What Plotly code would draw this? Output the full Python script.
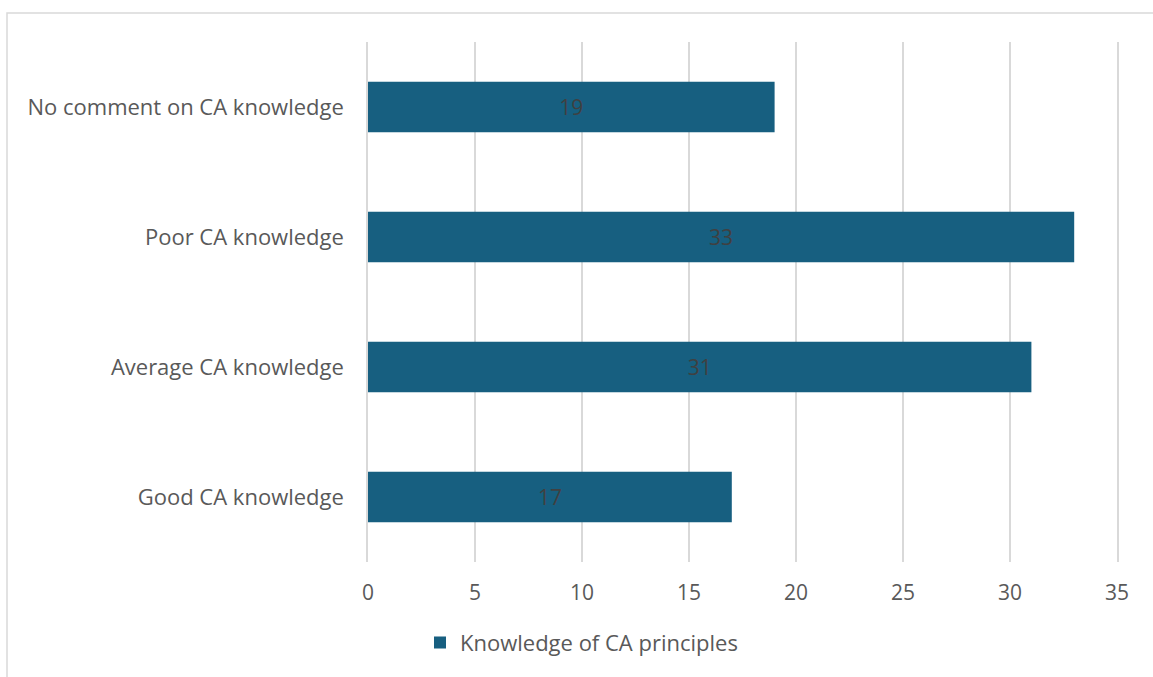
import plotly.graph_objects as go

categories = ["Good CA knowledge", "Average CA knowledge", "Poor CA knowledge", "No comment on CA knowledge"]
values = [17, 31, 33, 19]
series_name = "Knowledge of CA principles"
tick_values = [0, 5, 10, 15, 20, 25, 30, 35]

W, H = 1153, 677
L, R, T, B = 368, 36, 42, 115
pw, ph = W - L - R, H - T - B
FONT = "Open Sans"
FS = 21
FS_CAT = 22
GRID = "#d9d9d9"

fig = go.Figure()
fig.add_trace(go.Bar(
    y=categories, x=values, orientation="h", name=series_name,
    marker=dict(color="#175F80", line=dict(width=0)),
    width=0.39,
    text=[str(v) for v in values], textposition="inside", insidetextanchor="middle",
    textfont=dict(color="#404040", size=FS, family=FONT),
    showlegend=True,
))

fig.update_layout(
    width=W, height=H,
    margin=dict(l=L, r=R, t=T, b=B),
    paper_bgcolor="white", plot_bgcolor="white",
    font=dict(family=FONT, color="#595959", size=FS),
    xaxis=dict(range=[0, 35], tickvals=tick_values, showgrid=True, gridcolor=GRID,
               gridwidth=1.5, zeroline=False, showline=False, ticks="",
               tickfont=dict(size=FS, color="#595959"), ticklabelstandoff=16),
    yaxis=dict(showgrid=False, zeroline=False, showline=True, mirror=True,
               linecolor=GRID, linewidth=1.5, layer="below traces", ticks="",
               tickfont=dict(size=FS_CAT, color="#595959"), ticklabelstandoff=18),
    legend=dict(orientation="h", x=(420 - L) / pw, xanchor="left", y=-0.155, yanchor="middle",
                font=dict(size=FS_CAT, color="#595959")),
    shapes=[dict(type="rect", xref="paper", yref="paper",
                 x0=(7 - L) / pw, x1=(W + 20 - L) / pw,
                 y0=-(B + 20) / ph, y1=1 + (T - 13) / ph,
                 line=dict(color=GRID, width=1.5), layer="below")],
)

fig.write_html("out.html")
